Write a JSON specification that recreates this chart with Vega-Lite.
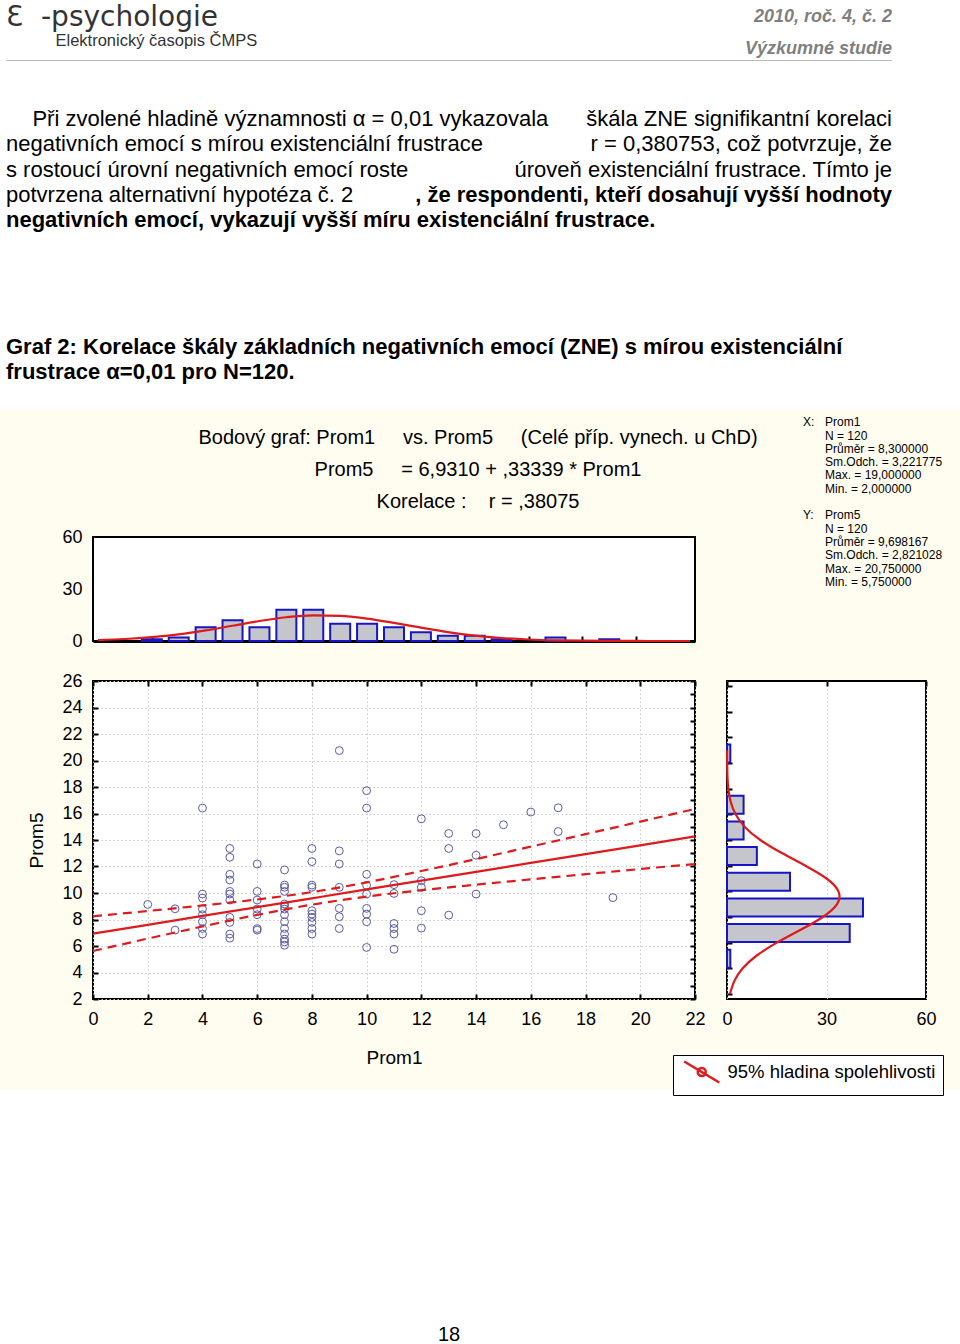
{
  "$schema": "https://vega.github.io/schema/vega-lite/v6.json",
  "background": "#fffcf0",
  "padding": 0,
  "spacing": 0,
  "config": {
    "view": {"stroke": null},
    "font": "Liberation Sans",
    "axis": {"labelFont": "Liberation Sans", "titleFont": "Liberation Sans", "labelColor": "black", "titleColor": "black"},
    "legend": {"labelFont": "Liberation Sans"}
  },
  "datasets": {
    "brand": [{"line": 1, "t": "\u200bƐ\u00a0\u00a0-psychologie"}],
    "brand_sub": [{"line": 2, "t": "\u200b\u2003\u2003\u2003Elektronický časopis ČMPS"}],
    "issue": [{"line": 1, "t": "2010, roč. 4, č. 2"}, {"line": 2, "t": "Výzkumné studie"}],
    "para_left": [
      {"line": 1, "t": "\u200b\u2003\u2009Při zvolené hladině významnosti α = 0,01 vykazovala"},
      {"line": 2, "t": "negativních emocí s mírou existenciální frustrace"},
      {"line": 3, "t": "s\u00a0rostoucí úrovní negativních emocí roste"},
      {"line": 4, "t": "potvrzena alternativní hypotéza č. 2"}
    ],
    "para_right": [
      {"line": 1, "t": "škála ZNE signifikantní korelaci"},
      {"line": 2, "t": "r = 0,380753, což potvrzuje, že"},
      {"line": 3, "t": "úroveň existenciální frustrace. Tímto je"}
    ],
    "para_right_bold": [{"line": 4, "t": ", že respondenti, kteří dosahují vyšší hodnoty"}],
    "para_bold": [
      {"line": 5, "t": "negativních emocí, vykazují vyšší míru existenciální frustrace."},
      {"line": 10, "t": "Graf 2: Korelace škály základních negativních emocí (ZNE) s mírou existenciální"},
      {"line": 11, "t": "frustrace α=0,01 pro N=120."}
    ],
    "chart_title": [
      {"line": 1, "t": "Bodový graf: Prom1\u00a0\u00a0\u00a0\u00a0\u00a0vs. Prom5\u00a0\u00a0\u00a0\u00a0\u00a0(Celé příp. vynech. u ChD)"},
      {"line": 2, "t": "Prom5\u00a0\u00a0\u00a0\u00a0\u00a0= 6,9310 + ,33339 * Prom1"},
      {"line": 3, "t": "Korelace :\u00a0\u00a0\u00a0\u00a0r = ,38075"}
    ],
    "stats_labels": [{"line": 1, "t": "X:"}, {"line": 8, "t": "Y:"}],
    "stats_values": [
      {"line": 1, "t": "Prom1"},
      {"line": 2, "t": "N = 120"},
      {"line": 3, "t": "Průměr = 8,300000"},
      {"line": 4, "t": "Sm.Odch. = 3,221775"},
      {"line": 5, "t": "Max. = 19,000000"},
      {"line": 6, "t": "Min. = 2,000000"},
      {"line": 8, "t": "Prom5"},
      {"line": 9, "t": "N = 120"},
      {"line": 10, "t": "Průměr = 9,698167"},
      {"line": 11, "t": "Sm.Odch. = 2,821028"},
      {"line": 12, "t": "Max. = 20,750000"},
      {"line": 13, "t": "Min. = 5,750000"}
    ],
    "hist_x": [
      {"v": 2, "n": 1}, {"v": 3, "n": 2}, {"v": 4, "n": 8}, {"v": 5, "n": 12}, {"v": 6, "n": 8},
      {"v": 7, "n": 18}, {"v": 8, "n": 18}, {"v": 9, "n": 10}, {"v": 10, "n": 10}, {"v": 11, "n": 8},
      {"v": 12, "n": 5}, {"v": 13, "n": 3}, {"v": 14, "n": 3}, {"v": 15, "n": 1}, {"v": 17, "n": 2}, {"v": 19, "n": 1}
    ],
    "curve_x": [
      {"v": 0, "n": 0.54}, {"v": 1, "n": 1.14}, {"v": 2, "n": 2.2}, {"v": 3, "n": 3.84}, {"v": 4, "n": 6.1},
      {"v": 5, "n": 8.8}, {"v": 6, "n": 11.53}, {"v": 7, "n": 13.71}, {"v": 8, "n": 14.81}, {"v": 9, "n": 14.52},
      {"v": 10, "n": 12.94}, {"v": 11, "n": 10.47}, {"v": 12, "n": 7.69}, {"v": 13, "n": 5.13}, {"v": 14, "n": 3.11},
      {"v": 15, "n": 1.71}, {"v": 16, "n": 0.86}, {"v": 17, "n": 0.39}, {"v": 18, "n": 0.16}, {"v": 19, "n": 0.06},
      {"v": 20, "n": 0.02}, {"v": 21, "n": 0.01}, {"v": 22, "n": 0}
    ],
    "hist_y": [
      {"v": 4.75, "n": 1}, {"v": 6.75, "n": 37}, {"v": 8.75, "n": 41}, {"v": 10.75, "n": 19},
      {"v": 12.75, "n": 9}, {"v": 14.75, "n": 5}, {"v": 16.75, "n": 5}, {"v": 20.75, "n": 1}
    ],
    "curve_y": [
      {"v": 2, "n": 0.9}, {"v": 3, "n": 2.2}, {"v": 4, "n": 4.73}, {"v": 5, "n": 8.98}, {"v": 6, "n": 15.04},
      {"v": 7, "n": 22.2}, {"v": 8, "n": 28.9}, {"v": 9, "n": 33.18}, {"v": 10, "n": 33.6}, {"v": 11, "n": 30.01},
      {"v": 12, "n": 23.64}, {"v": 13, "n": 16.42}, {"v": 14, "n": 10.06}, {"v": 15, "n": 5.43}, {"v": 16, "n": 2.59},
      {"v": 17, "n": 1.09}, {"v": 18, "n": 0.4}, {"v": 19, "n": 0.13}, {"v": 20, "n": 0.04}, {"v": 21, "n": 0.01}
    ],
    "fit": [
      {"x": 0, "fit": 6.93, "lo": 5.62, "hi": 8.24},
      {"x": 2, "fit": 7.6, "lo": 6.56, "hi": 8.64},
      {"x": 4, "fit": 8.27, "lo": 7.47, "hi": 9.06},
      {"x": 6, "fit": 8.93, "lo": 8.35, "hi": 9.51},
      {"x": 8, "fit": 9.6, "lo": 9.12, "hi": 10.07},
      {"x": 8.3, "fit": 9.7, "lo": 9.22, "hi": 10.17},
      {"x": 10, "fit": 10.27, "lo": 9.73, "hi": 10.8},
      {"x": 12, "fit": 10.93, "lo": 10.21, "hi": 11.66},
      {"x": 14, "fit": 11.6, "lo": 10.63, "hi": 12.56},
      {"x": 16, "fit": 12.27, "lo": 11.03, "hi": 13.5},
      {"x": 18, "fit": 12.93, "lo": 11.42, "hi": 14.44},
      {"x": 20, "fit": 13.6, "lo": 11.81, "hi": 15.39},
      {"x": 22, "fit": 14.27, "lo": 12.19, "hi": 16.34}
    ],
    "points": [
      {"x": 2, "y": 9.14},
      {"x": 3, "y": 8.81}, {"x": 3, "y": 7.2},
      {"x": 4, "y": 16.41}, {"x": 4, "y": 9.92}, {"x": 4, "y": 9.62}, {"x": 4, "y": 8.79}, {"x": 4, "y": 8.36}, {"x": 4, "y": 7.83}, {"x": 4, "y": 7.32}, {"x": 4, "y": 6.9},
      {"x": 5, "y": 13.36}, {"x": 5, "y": 12.7}, {"x": 5, "y": 11.41}, {"x": 5, "y": 10.98}, {"x": 5, "y": 10.12}, {"x": 5, "y": 9.92}, {"x": 5, "y": 9.47}, {"x": 5, "y": 8.16}, {"x": 5, "y": 7.78}, {"x": 5, "y": 6.9}, {"x": 5, "y": 6.59},
      {"x": 6, "y": 12.19}, {"x": 6, "y": 10.12}, {"x": 6, "y": 9.47}, {"x": 6, "y": 8.79}, {"x": 6, "y": 8.36}, {"x": 6, "y": 7.32}, {"x": 6, "y": 7.2},
      {"x": 7, "y": 11.74}, {"x": 7, "y": 10.6}, {"x": 7, "y": 10.43}, {"x": 7, "y": 10.12}, {"x": 7, "y": 9.17}, {"x": 7, "y": 8.99}, {"x": 7, "y": 8.79}, {"x": 7, "y": 8.36}, {"x": 7, "y": 7.83}, {"x": 7, "y": 7.32}, {"x": 7, "y": 6.9}, {"x": 7, "y": 6.52}, {"x": 7, "y": 6.31}, {"x": 7, "y": 6.06},
      {"x": 8, "y": 13.36}, {"x": 8, "y": 12.37}, {"x": 8, "y": 10.6}, {"x": 8, "y": 10.43}, {"x": 8, "y": 8.66}, {"x": 8, "y": 8.41}, {"x": 8, "y": 8.16}, {"x": 8, "y": 7.78}, {"x": 8, "y": 7.32}, {"x": 8, "y": 6.9},
      {"x": 9, "y": 20.75}, {"x": 9, "y": 13.18}, {"x": 9, "y": 12.19}, {"x": 9, "y": 10.43}, {"x": 9, "y": 8.84}, {"x": 9, "y": 8.21}, {"x": 9, "y": 7.32},
      {"x": 10, "y": 17.72}, {"x": 10, "y": 16.41}, {"x": 10, "y": 11.41}, {"x": 10, "y": 10.58}, {"x": 10, "y": 9.92}, {"x": 10, "y": 8.84}, {"x": 10, "y": 8.41}, {"x": 10, "y": 7.83}, {"x": 10, "y": 5.89},
      {"x": 11, "y": 10.63}, {"x": 11, "y": 9.97}, {"x": 11, "y": 7.7}, {"x": 11, "y": 7.32}, {"x": 11, "y": 6.9}, {"x": 11, "y": 5.75},
      {"x": 12, "y": 15.6}, {"x": 12, "y": 10.93}, {"x": 12, "y": 10.43}, {"x": 12, "y": 8.66}, {"x": 12, "y": 7.35},
      {"x": 13, "y": 14.49}, {"x": 13, "y": 13.36}, {"x": 13, "y": 8.33},
      {"x": 14, "y": 14.49}, {"x": 14, "y": 12.85}, {"x": 14, "y": 9.92},
      {"x": 15, "y": 15.15},
      {"x": 16, "y": 16.11},
      {"x": 17, "y": 16.43}, {"x": 17, "y": 14.64},
      {"x": 19, "y": 9.65}
    ]
  },
  "vconcat": [
    {
      "hconcat": [
        {"width": 6, "height": 61, "view": {"fill": "white"}, "data": {"values": []}, "mark": "point"},
        {
          "width": 886, "height": 61, "view": {"fill": "white"},
          "resolve": {"scale": {"y": "independent"}},
          "layer": [
            {
              "data": {"name": "brand"},
              "mark": {"type": "text", "align": "left", "baseline": "middle", "font": "DejaVu Sans", "fontSize": 28, "color": "#333333"},
              "encoding": {
                "x": {"datum": 0, "type": "quantitative", "scale": {"domain": [0, 1], "nice": false}, "axis": {"orient": "bottom", "domain": true, "domainColor": "#7a7a7a", "domainWidth": 2, "ticks": false, "labels": false, "grid": false, "title": null}},
                "y": {"field": "line", "type": "quantitative", "scale": {"domain": [0.357, 2.536], "reverse": true, "nice": false, "zero": false}, "axis": null},
                "text": {"field": "t", "type": "nominal"}
              }
            },
            {
              "data": {"name": "brand_sub"},
              "mark": {"type": "text", "align": "left", "baseline": "alphabetic", "fontSize": 16.5, "color": "#333333"},
              "encoding": {
                "x": {"datum": 0, "type": "quantitative", "scale": {"domain": [0, 1], "nice": false}, "axis": {"orient": "bottom", "domain": true, "domainColor": "#7a7a7a", "domainWidth": 2, "ticks": false, "labels": false, "grid": false, "title": null}},
                "y": {"field": "line", "type": "quantitative", "scale": {"domain": [0.357, 2.536], "reverse": true, "nice": false, "zero": false}, "axis": null},
                "text": {"field": "t", "type": "nominal"}
              }
            },
            {
              "data": {"name": "issue"},
              "mark": {"type": "text", "align": "right", "baseline": "middle", "fontSize": 18, "fontWeight": "bold", "fontStyle": "italic", "color": "#7f7f7f"},
              "encoding": {
                "x": {"datum": 1, "type": "quantitative", "scale": {"domain": [0, 1], "nice": false}, "axis": {"orient": "bottom", "domain": true, "domainColor": "#7a7a7a", "domainWidth": 2, "ticks": false, "labels": false, "grid": false, "title": null}},
                "y": {"field": "line", "type": "quantitative", "scale": {"domain": [0.469, 2.375], "reverse": true, "nice": false, "zero": false}, "axis": null},
                "text": {"field": "t", "type": "nominal"}
              }
            }
          ]
        },
        {"width": 68, "height": 61, "view": {"fill": "white"}, "data": {"values": []}, "mark": "point"}
      ],
      "spacing": 0,
      "bounds": "flush"
    },
    {
      "hconcat": [
        {"width": 6, "height": 348, "view": {"fill": "white"}, "data": {"values": []}, "mark": "point"},
        {
          "width": 886, "height": 348, "view": {"fill": "white"},
          "layer": [
            {
              "data": {"name": "para_left"},
              "mark": {"type": "text", "align": "left", "baseline": "middle", "fontSize": 22, "color": "black"},
              "encoding": {
                "x": {"datum": 0, "type": "quantitative", "scale": {"domain": [0, 1], "nice": false}, "axis": null},
                "y": {"field": "line", "type": "quantitative", "scale": {"domain": [-1.2925, 12.462], "reverse": true, "nice": false, "zero": false}, "axis": null},
                "text": {"field": "t", "type": "nominal"}
              }
            },
            {
              "data": {"name": "para_right"},
              "mark": {"type": "text", "align": "right", "baseline": "middle", "fontSize": 22, "color": "black"},
              "encoding": {
                "x": {"datum": 1, "type": "quantitative", "scale": {"domain": [0, 1], "nice": false}, "axis": null},
                "y": {"field": "line", "type": "quantitative", "scale": {"domain": [-1.2925, 12.462], "reverse": true, "nice": false, "zero": false}, "axis": null},
                "text": {"field": "t", "type": "nominal"}
              }
            },
            {
              "data": {"name": "para_right_bold"},
              "mark": {"type": "text", "align": "right", "baseline": "middle", "fontSize": 22, "fontWeight": "bold", "color": "black"},
              "encoding": {
                "x": {"datum": 1, "type": "quantitative", "scale": {"domain": [0, 1], "nice": false}, "axis": null},
                "y": {"field": "line", "type": "quantitative", "scale": {"domain": [-1.2925, 12.462], "reverse": true, "nice": false, "zero": false}, "axis": null},
                "text": {"field": "t", "type": "nominal"}
              }
            },
            {
              "data": {"name": "para_bold"},
              "mark": {"type": "text", "align": "left", "baseline": "middle", "fontSize": 22, "fontWeight": "bold", "color": "black"},
              "encoding": {
                "x": {"datum": 0, "type": "quantitative", "scale": {"domain": [0, 1], "nice": false}, "axis": null},
                "y": {"field": "line", "type": "quantitative", "scale": {"domain": [-1.2925, 12.462], "reverse": true, "nice": false, "zero": false}, "axis": null},
                "text": {"field": "t", "type": "nominal"}
              }
            }
          ]
        },
        {"width": 68, "height": 348, "view": {"fill": "white"}, "data": {"values": []}, "mark": "point"}
      ],
      "spacing": 0,
      "bounds": "flush"
    },
    {
      "hconcat": [
        {
          "vconcat": [
            {
              "hconcat": [
                {"width": 196, "height": 118, "data": {"values": []}, "mark": "point"},
                {
                  "width": 564, "height": 118,
                  "data": {"name": "chart_title"},
                  "mark": {"type": "text", "baseline": "middle", "fontSize": 20, "color": "black"},
                  "encoding": {
                    "y": {"field": "line", "type": "quantitative", "scale": {"domain": [0.094, 3.781], "reverse": true, "nice": false, "zero": false}, "axis": null},
                    "text": {"field": "t", "type": "nominal"}
                  }
                }
              ],
              "spacing": 0,
              "bounds": "flush"
            },
            {
              "hconcat": [
                {"width": 61, "height": 104, "data": {"values": []}, "mark": "point"},
                {
                  "width": 602, "height": 104,
                  "view": {"fill": "white", "stroke": "black", "strokeWidth": 2},
                  "layer": [
                    {
                      "data": {"name": "hist_x"},
                      "mark": {"type": "bar", "orient": "vertical", "size": 20, "fill": "#c5c5cc", "stroke": "#1616c4", "strokeWidth": 2},
                      "encoding": {
                        "x": {"field": "v", "type": "quantitative", "scale": {"domain": [0, 22], "nice": false, "zero": false},
                              "axis": {"orient": "bottom", "values": [2, 4, 6, 8, 10, 12, 14, 16, 18, 20], "labels": false, "ticks": true, "tickSize": -5, "tickColor": "black", "tickWidth": 2, "domain": true, "domainColor": "black", "domainWidth": 3, "grid": false, "title": null}},
                        "y": {"field": "n", "type": "quantitative", "scale": {"domain": [0, 60], "nice": false},
                              "axis": {"values": [0, 30, 60], "ticks": false, "labelPadding": 11, "labelFontSize": 18, "domain": false, "grid": false, "title": null}}
                      }
                    },
                    {
                      "data": {"name": "curve_x"},
                      "mark": {"type": "line", "color": "#e0191c", "strokeWidth": 2.2, "interpolate": "monotone"},
                      "encoding": {
                        "x": {"field": "v", "type": "quantitative"},
                        "y": {"field": "n", "type": "quantitative"}
                      }
                    }
                  ]
                }
              ],
              "spacing": 32,
              "bounds": "flush"
            }
          ],
          "spacing": 0
        },
        {
          "hconcat": [
            {
              "width": 22, "height": 180,
              "data": {"name": "stats_labels"},
              "mark": {"type": "text", "align": "left", "baseline": "middle", "fontSize": 12, "color": "black"},
              "encoding": {
                "x": {"datum": 0, "type": "quantitative", "scale": {"domain": [0, 1], "nice": false}, "axis": null},
                "y": {"field": "line", "type": "quantitative", "scale": {"domain": [0, 13.534], "reverse": true, "nice": false, "zero": false}, "axis": null},
                "text": {"field": "t", "type": "nominal"}
              }
            },
            {
              "width": 135, "height": 180,
              "data": {"name": "stats_values"},
              "mark": {"type": "text", "align": "left", "baseline": "middle", "fontSize": 12, "color": "black"},
              "encoding": {
                "x": {"datum": 0, "type": "quantitative", "scale": {"domain": [0, 1], "nice": false}, "axis": null},
                "y": {"field": "line", "type": "quantitative", "scale": {"domain": [0, 13.534], "reverse": true, "nice": false, "zero": false}, "axis": null},
                "text": {"field": "t", "type": "nominal"}
              }
            }
          ],
          "spacing": 0,
          "bounds": "flush"
        }
      ],
      "spacing": 43
    },
    {"width": 960, "height": 20, "data": {"values": []}, "mark": "point"},
    {
      "hconcat": [
        {"width": 61, "height": 318, "data": {"values": []}, "mark": "point"},
        {
          "width": 602, "height": 318,
          "view": {"fill": "white", "stroke": "black", "strokeWidth": 2},
          "resolve": {"axis": {"x": "independent", "y": "independent"}},
          "layer": [
            {
              "data": {"name": "points"},
              "mark": {"type": "point", "shape": "circle", "filled": false, "stroke": "#5b5ba6", "strokeWidth": 1, "size": 62, "opacity": 1},
              "encoding": {
                "x": {"field": "x", "type": "quantitative", "scale": {"domain": [0, 22], "nice": false, "zero": false},
                      "axis": {"orient": "bottom", "values": [0, 2, 4, 6, 8, 10, 12, 14, 16, 18, 20, 22], "grid": true, "gridColor": "#c9c9c9", "gridDash": [1.5, 2.5], "gridWidth": 1, "ticks": false, "domain": false, "labelPadding": 11, "labelFontSize": 18, "labelFlush": false, "labelOverlap": false, "title": "Prom1", "titleFontSize": 19, "titleFontWeight": "normal", "titlePadding": 20}},
                "y": {"field": "y", "type": "quantitative", "scale": {"domain": [2, 26], "nice": false, "zero": false},
                      "axis": {"orient": "left", "values": [2, 4, 6, 8, 10, 12, 14, 16, 18, 20, 22, 24, 26], "grid": true, "gridColor": "#c9c9c9", "gridDash": [1.5, 2.5], "gridWidth": 1, "ticks": false, "domain": false, "labelPadding": 11, "labelFontSize": 18, "labelFlush": false, "labelOverlap": false, "title": "Prom5", "titleFontSize": 19, "titleFontWeight": "normal", "titlePadding": 15}}
              }
            },
            {
              "data": {"name": "fit"},
              "mark": {"type": "line", "strokeWidth": 2.2},
              "encoding": {
                "x": {"field": "x", "type": "quantitative", "scale": {"domain": [0, 22], "nice": false, "zero": false},
                      "axis": {"orient": "top", "values": [0, 2, 4, 6, 8, 10, 12, 14, 16, 18, 20, 22], "labels": false, "ticks": true, "tickSize": -5, "tickColor": "black", "tickWidth": 2, "domain": false, "grid": false, "title": null}},
                "y": {"field": "fit", "type": "quantitative", "scale": {"domain": [2, 26], "nice": false, "zero": false},
                      "axis": {"orient": "right", "values": [2, 3, 4, 5, 6, 7, 8, 9, 10, 11, 12, 13, 14, 15, 16, 17, 18, 19, 20, 21, 22, 23, 24, 25, 26], "labels": false, "ticks": true, "tickSize": -5, "tickColor": "black", "tickWidth": 2, "domain": false, "grid": false, "title": null}},
                "color": {"datum": "95% hladina spolehlivosti", "type": "nominal", "scale": {"range": ["#e0191c"]},
                          "legend": {"orient": "none", "legendX": 673, "legendY": 1055, "title": null, "symbolType": "M-0.657,-1.2L3.343,1.2M1.8,0A0.457,0.457,0,1,1,0.886,0A0.457,0.457,0,1,1,1.8,0", "symbolSize": 306, "symbolStrokeWidth": 2.5, "symbolFillColor": "white", "symbolStrokeColor": "#e0191c", "labelFontSize": 18.5, "labelColor": "black", "labelLimit": 0, "labelOffset": 27.5, "padding": 7, "strokeColor": "black", "fillColor": "white", "cornerRadius": 0}}
              }
            },
            {
              "data": {"name": "fit"},
              "mark": {"type": "line", "color": "#e0191c", "strokeWidth": 2.2, "strokeDash": [9, 6], "interpolate": "monotone"},
              "encoding": {
                "x": {"field": "x", "type": "quantitative", "scale": {"domain": [0, 22], "nice": false, "zero": false},
                      "axis": {"orient": "bottom", "values": [0, 2, 4, 6, 8, 10, 12, 14, 16, 18, 20, 22], "labels": false, "ticks": true, "tickSize": -5, "tickColor": "black", "tickWidth": 2, "domain": false, "grid": false, "title": null}},
                "y": {"field": "lo", "type": "quantitative", "scale": {"domain": [2, 26], "nice": false, "zero": false},
                      "axis": {"orient": "left", "values": [2, 4, 6, 8, 10, 12, 14, 16, 18, 20, 22, 24, 26], "labels": false, "ticks": true, "tickSize": -5, "tickColor": "black", "tickWidth": 2, "domain": false, "grid": false, "title": null}}
              }
            },
            {
              "data": {"name": "fit"},
              "mark": {"type": "line", "color": "#e0191c", "strokeWidth": 2.2, "strokeDash": [9, 6], "interpolate": "monotone"},
              "encoding": {
                "x": {"field": "x", "type": "quantitative", "scale": {"domain": [0, 22], "nice": false, "zero": false}, "axis": null},
                "y": {"field": "hi", "type": "quantitative", "scale": {"domain": [2, 26], "nice": false, "zero": false}, "axis": null}
              }
            }
          ]
        },
        {
          "width": 199, "height": 318,
          "view": {"fill": "white", "stroke": "black", "strokeWidth": 2},
          "resolve": {"axis": {"x": "independent", "y": "independent"}},
          "layer": [
            {
              "data": {"name": "hist_y"},
              "mark": {"type": "bar", "orient": "horizontal", "size": 18, "fill": "#c5c5cc", "stroke": "#1616c4", "strokeWidth": 2},
              "encoding": {
                "x": {"field": "n", "type": "quantitative", "scale": {"domain": [0, 60], "nice": false},
                      "axis": {"orient": "bottom", "values": [0, 30, 60], "grid": true, "gridColor": "#c9c9c9", "gridDash": [1.5, 2.5], "ticks": false, "domain": false, "labelPadding": 11, "labelFontSize": 18, "labelFlush": false, "title": null}},
                "y": {"field": "v", "type": "quantitative", "scale": {"domain": [2, 26], "nice": false, "zero": false},
                      "axis": {"orient": "left", "values": [2, 4, 6, 8, 10, 12, 14, 16, 18, 20, 22, 24, 26], "labels": false, "ticks": true, "tickSize": -5, "tickColor": "black", "tickWidth": 2, "domain": false, "grid": false, "title": null}}
              }
            },
            {
              "data": {"name": "curve_y"},
              "mark": {"type": "line", "color": "#e0191c", "strokeWidth": 2.2, "interpolate": "natural"},
              "encoding": {
                "x": {"field": "n", "type": "quantitative", "scale": {"domain": [0, 60], "nice": false},
                      "axis": {"orient": "top", "values": [0, 30, 60], "labels": false, "ticks": true, "tickSize": -5, "tickColor": "black", "tickWidth": 2, "domain": false, "grid": false, "title": null}},
                "y": {"field": "v", "type": "quantitative", "scale": {"domain": [2, 26], "nice": false, "zero": false}, "axis": null},
                "order": {"field": "v", "type": "quantitative"}
              }
            }
          ]
        },
        {"width": 2, "height": 318, "data": {"values": []}, "mark": "point"}
      ],
      "spacing": 32,
      "bounds": "flush"
    },
    {"width": 960, "height": 22, "data": {"values": []}, "mark": "point"},
    {"width": 960, "height": 234, "view": {"fill": "white"}, "data": {"values": []}, "mark": "point"},
    {
      "hconcat": [
        {
          "width": 898, "height": 22, "view": {"fill": "white"},
          "data": {"values": [{"page": "18"}]},
          "mark": {"type": "text", "baseline": "middle", "fontSize": 20, "color": "black"},
          "encoding": {"text": {"field": "page", "type": "nominal"}}
        },
        {"width": 62, "height": 22, "view": {"fill": "white"}, "data": {"values": []}, "mark": "point"}
      ],
      "spacing": 0,
      "bounds": "flush"
    }
  ]
}
